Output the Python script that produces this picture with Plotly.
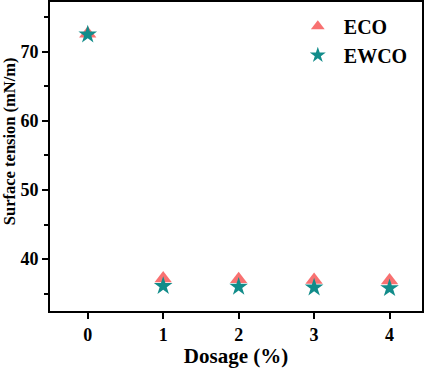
import plotly.graph_objects as go

dosage = [0, 1, 2, 3, 4]
eco = [72.6, 37.2, 37.1, 37.0, 36.9]
ewco = [72.5, 36.1, 36.0, 35.9, 35.8]
x_ticks = [0, 1, 2, 3, 4]
y_ticks = [40, 50, 60, 70]

font = "Liberation Serif"
fig = go.Figure()
fig.add_trace(go.Scatter(x=dosage, y=eco, mode="markers", name="<b>ECO</b>",
                         marker=dict(symbol="triangle-up", size=15, color="#F87171")))
fig.add_trace(go.Scatter(x=dosage, y=ewco, mode="markers", name="<b>EWCO</b>",
                         marker=dict(symbol="star", size=14, color="#128C8A")))

fig.update_layout(
    width=429, height=368,
    margin=dict(l=50, r=7, t=2, b=57, autoexpand=False),
    plot_bgcolor="white", paper_bgcolor="white",
    font=dict(family=font, size=17, color="black"),
    showlegend=True,
    legend=dict(x=0.65, y=0.985, xanchor="left", yanchor="top",
                bgcolor="rgba(0,0,0,0)", font=dict(family=font, size=20, color="black"),
                itemsizing="constant", itemwidth=42, tracegroupgap=0),
    annotations=[dict(text="<b>Surface tension (mN/m)</b>", textangle=-90,
                      xref="paper", yref="paper", x=-0.110, y=0.55,
                      xanchor="center", yanchor="middle", showarrow=False,
                      font=dict(family=font, size=16.5, color="black"))],
)
fig.update_xaxes(
    range=[-0.5, 4.43], tickvals=x_ticks, ticktext=["<b>%d</b>" % v for v in x_ticks],
    ticks="outside", ticklen=6, tickwidth=2, tickcolor="black",
    showline=True, linewidth=2, linecolor="black", mirror=True,
    showgrid=False, zeroline=False, automargin=False,
    tickfont=dict(family=font, size=18),
    title=dict(text="<b>Dosage (%)</b>", font=dict(family=font, size=21), standoff=10),
)
fig.update_yaxes(
    range=[32.5, 77.2], tickvals=y_ticks, ticktext=["<b>%d</b>" % v for v in y_ticks],
    ticks="outside", ticklen=6, tickwidth=2, tickcolor="black",
    minor=dict(tickvals=[35, 45, 55, 65, 75], ticks="outside", ticklen=4, tickwidth=2, tickcolor="black"),
    showline=True, linewidth=2, linecolor="black", mirror=True,
    showgrid=False, zeroline=False, automargin=False,
    tickfont=dict(family=font, size=18),
)
fig.write_html("out.html", config={"displayModeBar": False},
               post_script="document.body.style.margin='0';document.body.style.overflow='hidden';")
